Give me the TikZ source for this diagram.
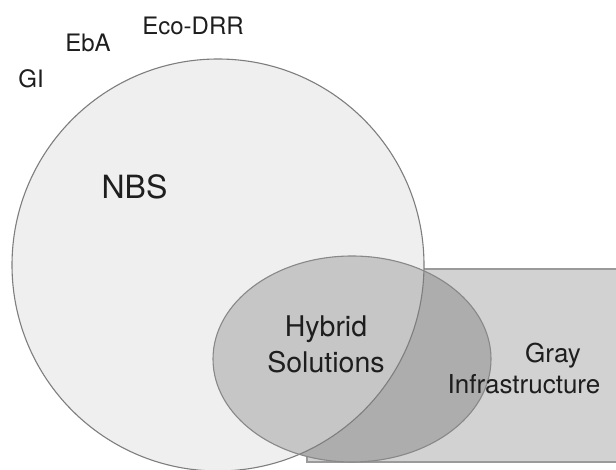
\documentclass[tikz,border=0pt]{standalone}
\usepackage{fontspec}
\setmainfont{TeX Gyre Heros}
\usetikzlibrary{positioning}

\definecolor{nbsfill}{HTML}{EFEFEF}
\definecolor{nbsline}{HTML}{7E7E7E}
\definecolor{grayfill}{HTML}{D2D2D2}
\definecolor{grayline}{HTML}{9A9A9A}
\definecolor{hyblight}{HTML}{C6C6C6}
\definecolor{hybdark}{HTML}{ADADAD}
\definecolor{hybline}{HTML}{888888}
\definecolor{txt}{HTML}{1E1E1E}

\begin{document}
\begin{tikzpicture}[
    x=1pt, y=-1pt,
    lbl/.style={font=\fontsize{24}{28}\selectfont, text=txt, inner sep=0pt, anchor=base},
    nbslbl/.style={lbl, font=\fontsize{32}{38}\selectfont},
    hyblbl/.style={text=txt, inner sep=0pt, align=center, font=\fontsize{28.5}{36}\selectfont},
    graylbl/.style={hyblbl, font=\fontsize{26}{31}\selectfont},
    outl/.style={line width=1.1pt}
  ]
  \clip (0,0) rectangle (616,470);
  \fill[white] (0,0) rectangle (616,470);

  % gray infrastructure, NBS circle, hybrid ellipse
  \filldraw[fill=grayfill, draw=grayline, outl] (307,269) rectangle (640,462);
  \fill[nbsfill] (218,265) circle [radius=206];
  \fill[hybdark] (352,359) ellipse [x radius=139, y radius=103];
  \begin{scope}
    \clip (218,265) circle [radius=206];
    \fill[hyblight] (352,359) ellipse [x radius=139, y radius=103];
  \end{scope}
  \draw[nbsline, outl] (218,265) circle [radius=206];
  \draw[hybline, outl] (352,359) ellipse [x radius=139, y radius=103];

  \node[lbl]    (gi)     at (31,88)    {GI};
  \node[lbl]    (eba)    at (88,52)    {EbA};
  \node[lbl]    (ecodrr) at (193,35)   {Eco-DRR};
  \node[nbslbl] (nbs)    at (134.5,199) {NBS};

  \node[hyblbl]  (hybrid) at (326,344.5) {Hybrid\\Solutions};
  \node[graylbl] (gray)   at (524,368)   {\hspace*{58pt}Gray\\Infrastructure};
\end{tikzpicture}
\end{document}
